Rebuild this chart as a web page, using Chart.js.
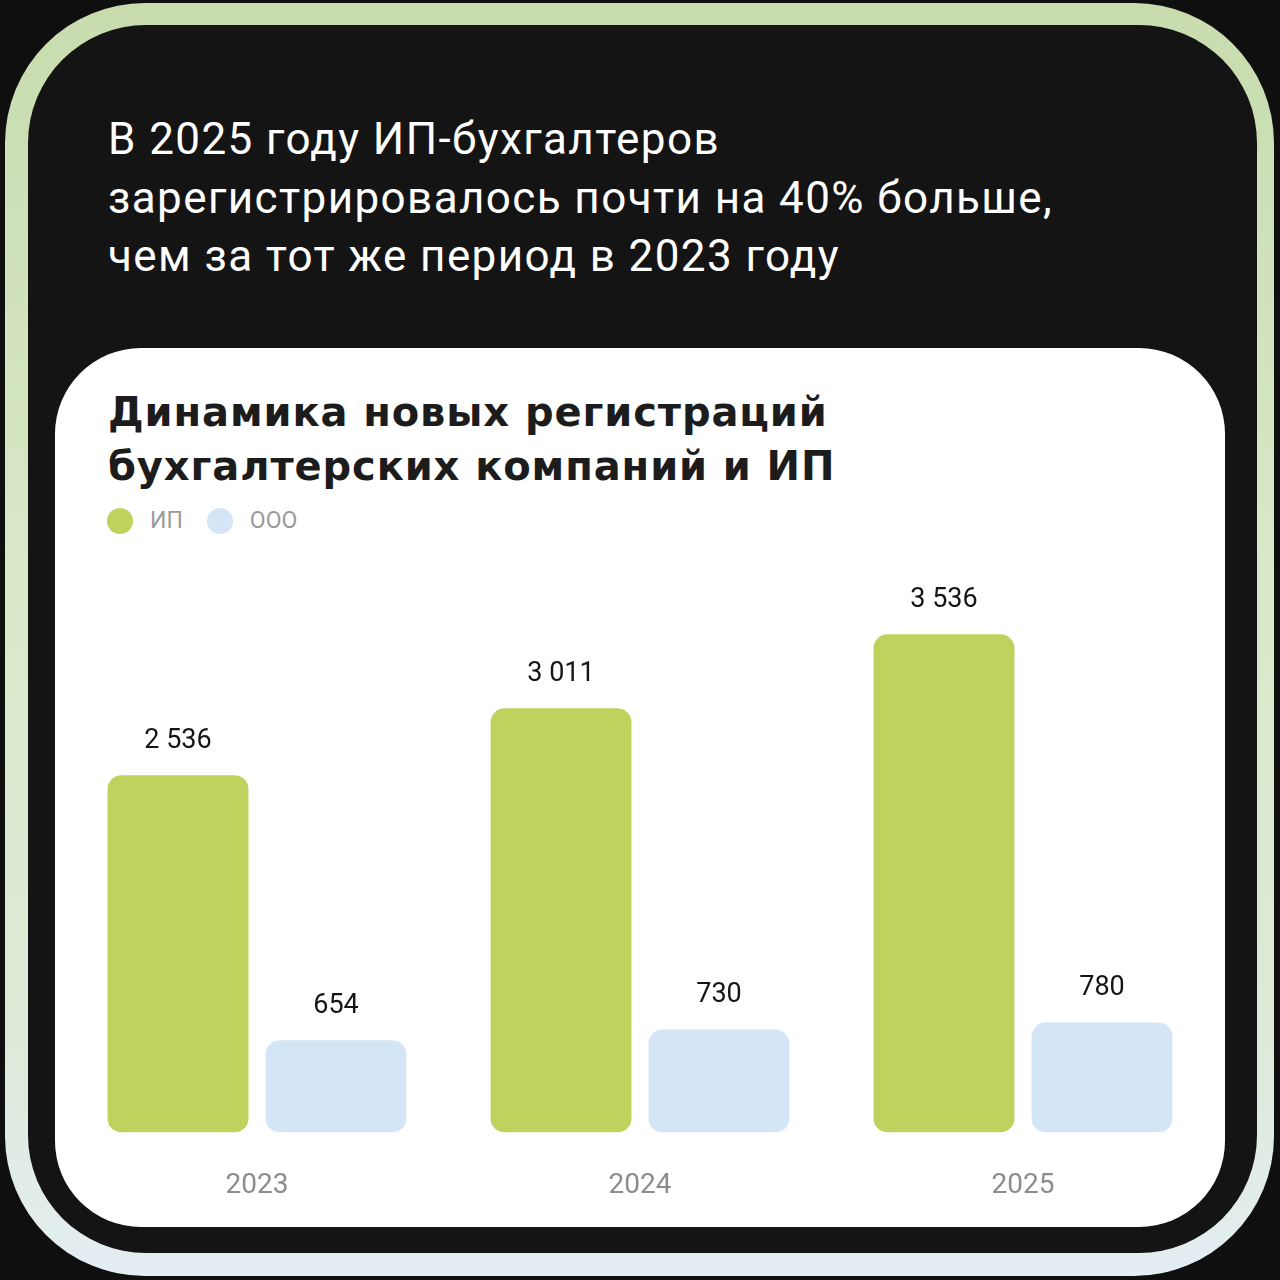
<!DOCTYPE html>
<html lang="ru">
<head>
<meta charset="utf-8">
<script src="https://cdn.jsdelivr.net/npm/chart.js@4.4.1/dist/chart.umd.min.js"></script>
<style>
  html, body { margin: 0; padding: 0; }
  body { width: 1280px; height: 1280px; background: #0f0f0f; position: relative; overflow: hidden; font-family: Roboto, "Noto Sans", sans-serif; }
  .frame { position: absolute; left: 5px; top: 3px; width: 1269px; height: 1273px; border-radius: 140px;
    background: linear-gradient(180deg, #c8dcae 0%, #d9e8c9 45%, #dde9d6 80%, #e4eef3 100%); }
  .inner { position: absolute; left: 28px; top: 25px; width: 1229px; height: 1228px; border-radius: 118px; background: #141414; }
  .headline { position: absolute; left: 108px; top: 110px; color: #fff; font-size: 44px; line-height: 58.5px; letter-spacing: 1.4px; }
  .card { position: absolute; left: 55px; top: 348px; width: 1170px; height: 879px; border-radius: 86px; background: #fff; }
  .card h2 { position: absolute; left: 53px; top: 37px; margin: 0; font-family: "DejaVu Sans", sans-serif; font-size: 40px; line-height: 54px; font-weight: 700; color: #1c1c1c; letter-spacing: 0.9px; }
  .legend { position: absolute; left: 52px; top: 159px; display: flex; align-items: center; font-size: 23px; color: #9a9a9a; }
  .legend span.dot { width: 26px; height: 26px; border-radius: 50%; display: inline-block; margin-right: 17px; }
  .legend span.lab { margin-right: 24px; }
  .chart-box { position: absolute; left: 0; top: 212px; width: 1170px; height: 709px; }
</style>
</head>
<body>
<div class="frame"></div>
<div class="inner"></div>
<div class="headline">В 2025 году ИП-бухгалтеров<br>зарегистрировалось почти на 40% больше,<br>чем за тот же период в 2023 году</div>
<div class="card">
  <h2>Динамика новых регистраций<br>бухгалтерских компаний и ИП</h2>
  <div class="legend" id="legend"></div>
  <div class="chart-box"><canvas id="chart"></canvas></div>
</div>
<script>
const years = ["2023", "2024", "2025"];
const ipValues = [2536, 3011, 3536];
const oooValues = [654, 730, 780];
const seriesNames = ["ИП", "ООО"];
const seriesColors = ["#bdd35d", "#d4e6f5"];

function fmt(v) {
  return String(v).replace(/\B(?=(\d{3})+(?!\d))/g, " ");
}

// подписи значений над столбцами
const valueLabels = {
  id: "valueLabels",
  afterDatasetsDraw(chart) {
    const ctx = chart.ctx;
    ctx.save();
    ctx.font = "27px Roboto";
    ctx.fillStyle = "#151515";
    ctx.textAlign = "center";
    ctx.textBaseline = "middle";
    chart.data.datasets.forEach((ds, i) => {
      chart.getDatasetMeta(i).data.forEach((bar, j) => {
        ctx.fillText(fmt(ds.data[j]), bar.x, bar.y - 34);
      });
    });
    ctx.restore();
  }
};

const chart = new Chart(document.getElementById("chart"), {
  type: "bar",
  data: {
    labels: years,
    datasets: [
      { label: seriesNames[0], data: ipValues, backgroundColor: seriesColors[0] },
      { label: seriesNames[1], data: oooValues, backgroundColor: seriesColors[1] }
    ]
  },
  options: {
    responsive: true,
    maintainAspectRatio: false,
    animation: false,
    categoryPercentage: 0.825,
    barPercentage: 0.892,
    borderRadius: 14,
    borderSkipped: false,
    layout: { padding: { left: 10.5, right: 10.5, top: 9, bottom: 29 } },
    plugins: { legend: { display: false }, tooltip: { enabled: false } },
    scales: {
      x: {
        grid: { display: false, drawTicks: false },
        border: { display: false },
        ticks: { color: "#8c8c8c", font: { family: "Roboto", size: 28 }, padding: 37 }
      },
      y: { display: false, min: 0, max: 4000 }
    }
  },
  plugins: [valueLabels]
});

// легенда из наборов данных
const legendEl = document.getElementById("legend");
chart.data.datasets.forEach(ds => {
  const dot = document.createElement("span");
  dot.className = "dot";
  dot.style.background = ds.backgroundColor;
  const lab = document.createElement("span");
  lab.className = "lab";
  lab.textContent = ds.label;
  legendEl.appendChild(dot);
  legendEl.appendChild(lab);
});
</script>
</body>
</html>
